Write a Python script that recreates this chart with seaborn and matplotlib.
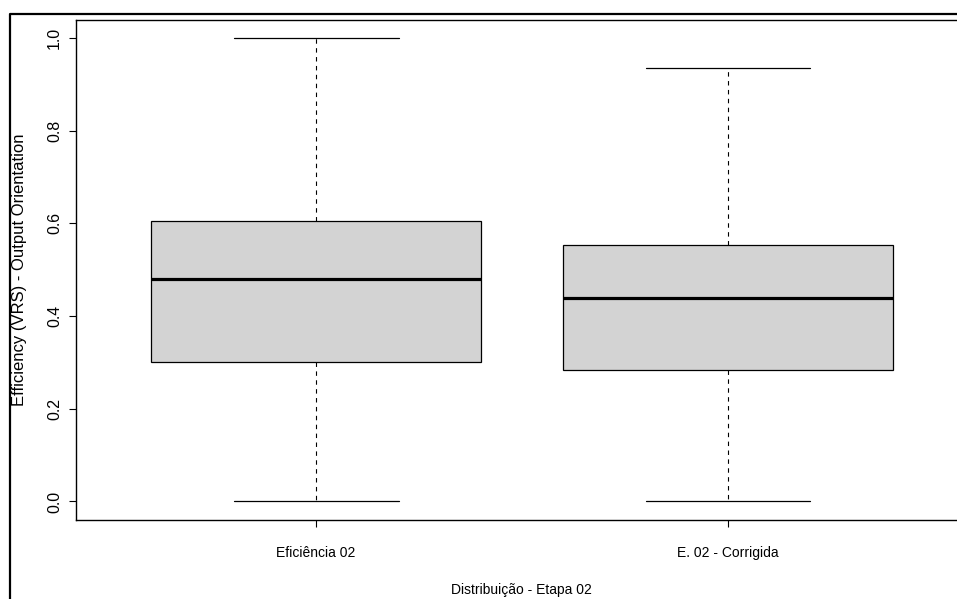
import matplotlib
matplotlib.use("Agg")
import matplotlib.pyplot as plt
import matplotlib.lines as mlines
import pandas as pd
import seaborn as sns

sns.set_theme(style="white")
plt.rcParams['font.family'] = ['Liberation Sans', 'DejaVu Sans']

# five-number summaries (min, q1, median, q3, max)
groups = ['Eficiência 02', 'E. 02 - Corrigida']
eff_02 = [0.0, 0.302, 0.479, 0.605, 1.0]
eff_02_corr = [0.0, 0.283, 0.438, 0.553, 0.935]
yticks = [0.0, 0.2, 0.4, 0.6, 0.8, 1.0]

df = pd.DataFrame({
    'grupo': [groups[0]] * len(eff_02) + [groups[1]] * len(eff_02_corr),
    'eff': eff_02 + eff_02_corr,
})

W, H = 957, 599
fig = plt.figure(figsize=(W / 100, H / 100), dpi=100)
# axes box runs off the right edge like in the screenshot
left, right, top, bottom = 76, 967, 19.5, 520
ax = fig.add_axes([left / W, (H - bottom) / H, (right - left) / W, (bottom - top) / H])

sns.boxplot(data=df, x='grupo', y='eff', ax=ax, whis=float('inf'), width=0.8,
            color='#D3D3D3', linecolor='black', linewidth=0.9, saturation=1,
            showfliers=False,
            medianprops=dict(color='black', linewidth=2.3),
            whiskerprops=dict(color='black', linewidth=0.8, linestyle=(0, (4, 4))),
            capprops=dict(color='black', linewidth=0.9))

ax.set_xlim(-0.583, 1.58)
ax.set_ylim(-0.04, 1.04)
ax.set_yticks(yticks)
ax.set_yticklabels([f'{v:.1f}' for v in yticks], rotation=90, va='center', fontsize=11.4)
for s in ax.spines.values():
    s.set_visible(True)
    s.set_color('black')
    s.set_linewidth(1.0)
ax.tick_params(axis='both', direction='out', length=5, width=0.8, color='black',
               labelcolor='black', left=True, bottom=True)
ax.tick_params(axis='x', labelsize=10, pad=13.5)
ax.tick_params(axis='y', pad=5)

ax.set_xlabel('Distribuição - Etapa 02', fontsize=10, color='black')
ax.set_ylabel('Efficiency (VRS) - Output Orientation', fontsize=12, color='black')
ax.xaxis.set_label_coords((521 - left) / (right - left), -(590 - bottom) / (bottom - top))
ax.yaxis.set_label_coords(-(left - 20) / (right - left), 0.5)
ax.xaxis.label.set_va('center')
ax.yaxis.label.set_va('center')

# black frame of the screenshot (left and top edges)
fig.add_artist(mlines.Line2D([10 / W, 10 / W, 1], [0, 1 - 14 / H, 1 - 14 / H],
                             transform=fig.transFigure, color='black', linewidth=1.6))

fig.savefig('out.png', dpi=100)
